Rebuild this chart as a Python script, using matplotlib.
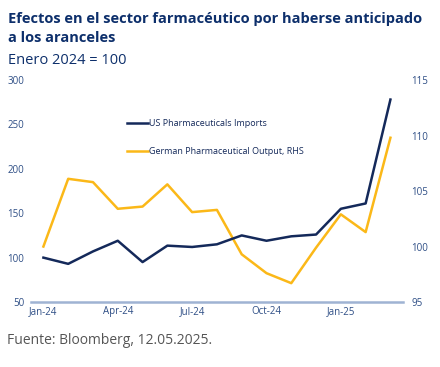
import matplotlib.pyplot as plt
import numpy as np

months = ['Jan-24', 'Feb-24', 'Mar-24', 'Apr-24', 'May-24', 'Jun-24', 'Jul-24',
          'Aug-24', 'Sep-24', 'Oct-24', 'Nov-24', 'Dec-24', 'Jan-25', 'Feb-25', 'Mar-25']
us_imports = [100, 93, 107, 119, 95, 113.5, 112, 115, 125, 119, 124, 126, 155, 161, 278]
de_output = [100, 106.1, 105.8, 103.4, 103.6, 105.6, 103.1, 103.3, 99.3, 97.6, 96.7, 99.9, 102.9, 101.3, 109.8]
tick_labels = ['Jan-24', 'Apr-24', 'Jul-24', 'Oct-24', 'Jan-25']

navy = '#14295a'
gold = '#fbb818'
tickc = '#2f4f86'

plt.rcParams['font.family'] = ['Open Sans', 'DejaVu Sans']

fig = plt.figure(figsize=(4.4, 3.67), dpi=100)
ax = fig.add_axes([0.0705, 0.177, 0.845, 0.605])
ax2 = ax.twinx()

x = np.arange(len(months))
l1, = ax.plot(x, us_imports, color=navy, lw=1.8, label='US Pharmaceuticals Imports', zorder=3)
l2, = ax2.plot(x, de_output, color=gold, lw=1.8, label='German Pharmaceutical Output, RHS')

ax.set_xlim(-0.5, 14.5)
ax.set_ylim(50, 300)
ax2.set_ylim(95, 115)
ax.set_yticks([50, 100, 150, 200, 250, 300])
ax2.set_yticks([95, 100, 105, 110, 115])
ax.set_xticks([months.index(m) for m in tick_labels])
ax.set_xticklabels(tick_labels)

ax.set_zorder(ax2.get_zorder() + 1)
ax.patch.set_visible(False)

for a in (ax, ax2):
    for s in a.spines.values():
        s.set_visible(False)
    a.tick_params(length=0, labelsize=7, colors=tickc)
ax.spines['bottom'].set_visible(True)
ax.spines['bottom'].set_color('#9fb3d3')
ax.spines['bottom'].set_linewidth(1.8)
ax.tick_params(axis='y', pad=5)
ax2.tick_params(axis='y', pad=6)
ax.tick_params(axis='x', pad=3)

leg = ax.legend([l1, l2], [l1.get_label(), l2.get_label()], loc='upper left',
                bbox_to_anchor=(0.235, 0.86), frameon=False, fontsize=6.5,
                labelcolor=navy, handlelength=2.4, handletextpad=0.1, labelspacing=2.1)

fig.text(0.018, 0.966, 'Efectos en el sector farmacéutico por haberse anticipado\na los aranceles',
         fontsize=10.5, fontweight='bold', color='#0d2f6b', va='top', linespacing=1.45)
fig.text(0.018, 0.834, 'Enero 2024 = 100', fontsize=10.5, color='#0d2f6b', va='center')
fig.text(0.016, 0.071, 'Fuente: Bloomberg, 12.05.2025.', fontsize=10, color='#555555', va='center')

fig.savefig('out.png', dpi=100)
